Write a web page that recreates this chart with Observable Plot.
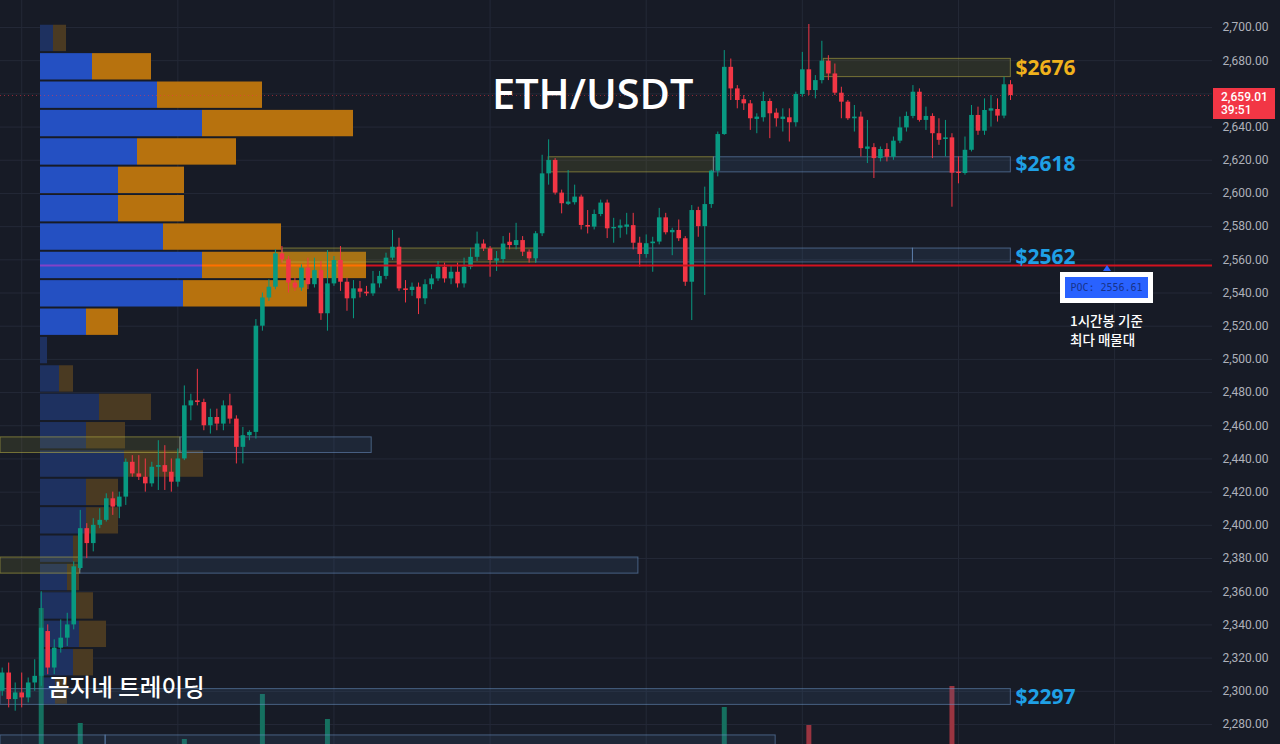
<!DOCTYPE html>
<html><head><meta charset="utf-8">
<script src="https://cdn.jsdelivr.net/npm/d3@7"></script>
<script src="https://cdn.jsdelivr.net/npm/@observablehq/plot@0.6"></script>
<style>
html,body{margin:0;padding:0;background:#171b26;}
#wrap{position:relative;width:1280px;height:744px;overflow:hidden;background:#171b26;}
#wrap svg{position:absolute;left:0;top:0;}
.t{position:absolute;white-space:nowrap;}
</style></head><body><div id="wrap"></div>
<script>
// ---- 1H candles (ETH/USDT) ----
const opens=[2300,2311,2295,2299,2296,2305,2309,2336,2314,2326,2332,2340,2374,2398,2389,2400,2403,2416,2411,2417,
2438,2431,2429,2425,2435,2436,2432,2426,2440,2472,2475,2474,2460,2465,2461,2472,2464,2447,2454,2456,
2520,2537,2543.5,2563.6,2560,2546,2543,2555,2545,2553.5,2527.5,2545.5,2559.6,2546.5,2536.5,2542.5,2540.5,2539.5,2545.5,2550,
2561,2567.6,2542.5,2541.5,2543.5,2536.5,2545,2548.5,2555.5,2548.5,2552.5,2545.5,2555.5,2561.5,2569.5,2566.6,2559.6,2560.2,2570.6,2568.6,
2571.6,2564.6,2560.6,2575.7,2611.8,2619.9,2600.2,2593.8,2594.4,2597.8,2580.7,2579.7,2587.3,2594.2,2578.7,2579.5,2580,2580.6,2570,2563.2,
2569.7,2570.7,2585.3,2576.3,2577.7,2572.7,2546.5,2589.7,2580,2593.3,2613.4,2635.5,2676,2663,2656.5,2654,2645,2645.6,2655.4,2648.4,
2645,2645.6,2642.6,2659.6,2674.5,2662,2668,2679.7,2672,2660.4,2655,2645,2646,2627,2627.6,2621,2626.5,2621.8,2631.5,2639.5,
2646.4,2661,2644,2646.4,2636,2632.5,2633.5,2612.8,2612,2626,2647,2637.5,2650,2650.6,2646.6,2665.5];
const highs=[2314,2317,2305,2311,2308,2319,2360,2340,2331,2343,2347,2378,2409,2401,2404,2410,2419,2420,2420,2440,
2442,2442,2440,2438,2451,2448,2440,2446,2484,2479,2494,2476,2470,2470,2475,2479,2466,2459,2457,2524,
2540,2548,2566,2568,2562,2549,2557,2561,2561,2559,2565.6,2562,2568,2549,2547.5,2547,2544,2553,2553,2564,
2577.7,2573,2547.5,2546,2546,2548,2551,2559,2558,2556,2558,2561,2567,2576.7,2572,2568,2565,2574,2576,2582,
2574,2566,2577,2623,2632.3,2621,2602,2613.8,2605,2599,2589.7,2590,2596,2596,2585,2584,2588,2588,2573.6,2575,
2573.6,2591,2588,2579,2584,2574,2592.7,2591.7,2603.8,2614,2637,2686.1,2681,2665,2659,2656,2648,2661,2657,2651,
2651,2651,2661,2685,2701.8,2671,2691.7,2683,2678,2664,2656,2653,2649,2644,2630,2628,2630,2634,2646,2649,
2665,2663,2652,2648,2645,2644,2636,2622,2634,2653,2652,2657,2659,2657,2670,2668];
const lows=[2297,2290,2288,2290,2293,2300,2303,2310,2310,2323,2327,2337,2373,2380,2384,2398,2402,2406,2404,2412,
2429,2427,2420,2423,2421,2421,2420,2423,2439,2463,2472,2457,2455,2457,2457,2461,2437,2437,2451,2452,
2517,2535,2542,2558,2540,2541,2541,2542,2543,2523.5,2517,2544,2541,2529,2524.5,2537,2538,2538,2543,2548,
2559.6,2541,2534,2538,2527,2533,2542,2547,2546,2545,2543,2543,2554,2559,2565,2549.5,2553,2558,2566,2566,
2562,2558,2558,2574,2605,2599,2587.7,2592.7,2593,2578,2575.6,2578,2586,2572.8,2570,2573,2575,2566,2555.6,2561,
2552.5,2569,2575,2562.5,2571,2544,2523.4,2573.6,2538.5,2591,2610,2635,2656,2651,2650,2638,2636,2643,2633,2640,
2637,2631,2640,2658,2659,2657,2666,2668,2659,2645,2644,2637,2622,2618,2609,2619,2619,2620,2630,2637,
2645,2643,2638,2621,2629,2622,2591.7,2605.8,2611,2625,2635,2635,2640,2643,2645,2656];
const closes=[2311,2295,2299,2296,2305,2309,2338,2314,2326,2332,2340,2375,2398,2389,2400,2403,2416,2411,2417,2438,
2431,2429,2425,2435,2436,2432,2426,2440,2472,2475,2474,2460,2465,2461,2472,2464,2447,2454,2456,2520,
2537,2543.5,2563.6,2560,2546,2543,2555,2545,2553.5,2527.5,2545.5,2559.6,2546.5,2536.5,2542.5,2540.5,2539.5,2545.5,2550,2561,
2567.6,2542.5,2541.5,2543.5,2536.5,2545,2548.5,2555.5,2548.5,2552.5,2545.5,2555.5,2561.5,2569.5,2566.6,2559.6,2560.2,2569.5,2568.6,2571.6,
2564.6,2560.6,2575.7,2611.8,2619.9,2600.2,2593.8,2594.4,2597.8,2580.7,2579.7,2587.3,2594.2,2578.7,2579.5,2580,2580.6,2570,2563.2,2569.7,
2570.7,2585.3,2576.3,2577.7,2572.7,2546.5,2589.7,2580,2593.3,2613.4,2635.5,2676,2663,2656,2654,2645,2645.6,2655.4,2648,2645,
2645.6,2642.6,2659.6,2674.5,2662,2668,2679.7,2672,2660.4,2655,2645,2646,2627,2627.6,2621,2626.5,2621.8,2631.5,2639.5,2646.4,
2661,2644,2646.4,2636,2632,2633.5,2612.2,2612,2626,2647,2637.5,2650,2650.6,2646.6,2665.5,2659.01];

// ---- volume bars that rise into view (candle index, volume K) ----
const volIndex=[6,12,28,40,50,111,124,146];
const volValue=[76,18.5,10.5,33,20.5,26.5,17.5,37];

// ---- volume profile (24 price rows, top -> bottom) ----
const profileTop=2701.96, profileStep=17.1;
const profileBuy =[13,52,117,162,97,78,78,123,162,143,46,7,19,59,46,84,46,46,33,27,36,39,33,15];
const profileSell=[13,59,105,151,99,66,66,118,164,124,32,0,14,52,39,79,32,32,7,12,17,27,20,12];
const valueAreaRows=[1,2,3,4,5,6,7,8,9,10]; // zero-based rows inside value area
const poc=2556.61, pocLineFrom=56;

// ---- zones ----
const zoneFrom=[126.3,84.0,109.4,43.1,82.1,140.0,-0.26,27.4,-0.26,12.0,-0.26,-0.26,15.9];
const zoneTo  =[155.05,109.4,155.05,82.1,140.0,155.05,27.4,56.8,12.0,97.8,155.05,15.9,118.9];
const zoneHi  =[2681.1,2621.8,2621.8,2566.8,2566.8,2566.8,2453.0,2453.0,2380.6,2380.6,2301.3,2273.4,2273.4];
const zoneLo  =[2670.1,2612.7,2612.7,2558.4,2558.4,2558.4,2443.6,2443.6,2370.9,2370.9,2291.8,2262,2262];
const zoneType=["y","y","b","y","b","b","y","b","y","b","b","b","b"];

const levelText=["$2676","$2618","$2562","$2297"];
const levelPrice=[2676,2618,2562,2297];
const levelColor=["#f0b21c","#1fa0e6","#1fa0e6","#1fa0e6"];

const priceTicks=d3.range(2280,2701,20);
const dayStarts=[3,27,51,75,99,123,147,171];

// ---- layout / scales ----
const W=1280,H=744,MR=68;
const xDomain=[-0.26,186.05], yDomain=[2267.93,2716.27];
const base={width:W,height:H,marginLeft:0,marginRight:MR,marginTop:0,marginBottom:0,
  style:{background:"transparent",fontFamily:"Roboto, sans-serif"}};
const wrap=document.getElementById("wrap");
const last=closes[closes.length-1];

// layer 1: grid + axis (tick hidden under the last-price label, as on the reference)
wrap.appendChild(Plot.plot({...base,
  x:{domain:xDomain,axis:null}, y:{domain:yDomain,axis:null},
  marks:[
    Plot.gridY(priceTicks,{stroke:"#242937",strokeOpacity:1}),
    Plot.gridX(dayStarts,{stroke:"#242937",strokeOpacity:1}),
    Plot.axisY(priceTicks.filter(t=>Math.abs(t-last)>9),{anchor:"right",tickSize:0,tickPadding:10,fontSize:12,fill:"#aeb1ba",
      tickFormat:d=>d3.format(",.2f")(d)})
  ]}));

// layer 2: volume profile
const prof=[];
profileBuy.forEach((b,k)=>{
  const hi=profileTop-k*profileStep, lo=hi-profileStep, va=valueAreaRows.includes(k);
  prof.push({x1:0,x2:b,hi,lo,fill:va?"#2450c2":"#1e3160"});
  if(profileSell[k]>0) prof.push({x1:b,x2:b+profileSell[k],hi,lo,fill:va?"#b7720e":"#4a3a22"});
});
const pocRow=Math.floor((profileTop-poc)/profileStep);
wrap.appendChild(Plot.plot({...base,
  x:{domain:[0,400],range:[40,440],axis:null}, y:{domain:yDomain,axis:null},
  marks:[
    Plot.rect(prof,{x1:"x1",x2:"x2",y1:"lo",y2:"hi",fill:"fill",insetTop:1,insetBottom:1}),
    Plot.ruleY([poc],{x1:0,x2:profileBuy[pocRow],stroke:"#9b3fc9",strokeWidth:2,strokeOpacity:0.8}),
    Plot.ruleY([poc],{x1:profileBuy[pocRow],x2:profileBuy[pocRow]+profileSell[pocRow],stroke:"#ff7000",strokeWidth:2})
  ]}));

// layer 3: volume bars
wrap.appendChild(Plot.plot({...base,
  x:{domain:xDomain,axis:null}, y:{domain:[0,380],range:[760,0],axis:null},
  marks:[
    Plot.ruleX(volIndex.map((i,k)=>({i,v:volValue[k],up:closes[i]>=opens[i]})),
      {x:"i",y1:0,y2:"v",strokeWidth:5,stroke:d=>d.up?"#15705f":"#9a3440"})
  ]}));

// layer 4: zones, candles, lines, labels
const candles=opens.map((o,i)=>({i,o,h:highs[i],l:lows[i],c:closes[i]}));
const zones=zoneFrom.map((x1,k)=>({x1,x2:zoneTo[k],hi:zoneHi[k],lo:zoneLo[k],t:zoneType[k]}));
const up="#089981", down="#f23645";
wrap.appendChild(Plot.plot({...base,
  x:{domain:xDomain,axis:null}, y:{domain:yDomain,axis:null},
  marks:[
    Plot.rect(zones,{x1:"x1",x2:"x2",y1:"lo",y2:"hi",
      fill:d=>d.t==="y"?"rgba(120,118,50,0.22)":"rgba(70,105,150,0.16)",
      stroke:d=>d.t==="y"?"rgba(190,180,70,0.55)":"rgba(110,150,200,0.55)",strokeWidth:1}),
    Plot.ruleY([last],{stroke:"#f23645",strokeOpacity:0.55,strokeDasharray:"1,3"}),
    Plot.ruleX(candles,{x:"i",y1:"l",y2:"h",stroke:d=>d.c>=d.o?up:down,strokeWidth:1}),
    Plot.ruleX(candles,{x:"i",
      y1:d=>Math.min(d.o,d.c)-(Math.abs(d.c-d.o)<0.8?0.4:0),
      y2:d=>Math.max(d.o,d.c)+(Math.abs(d.c-d.o)<0.8?0.4:0),
      stroke:d=>d.c>=d.o?up:down,strokeWidth:4.6}),
    Plot.ruleY([poc],{x1:pocLineFrom,x2:xDomain[1],stroke:"#d3121f",strokeWidth:2}),
    Plot.text(levelText.map((t,k)=>({t,p:levelPrice[k],c:levelColor[k]})),
      {x:155,y:"p",text:"t",fill:"c",textAnchor:"start",dx:5,dy:1,fontSize:21,fontWeight:700,
       fontFamily:"'Open Sans', sans-serif"})
  ]}));

// annotations (HTML text)
function add(html,css){const d=document.createElement("div");d.className="t";d.innerHTML=html;d.style.cssText+=css;wrap.appendChild(d);return d;}
add("ETH/USDT","left:492px;top:73px;font:600 41.5px 'Open Sans',sans-serif;line-height:1;color:#ffffff;");
add("곰지네 트레이딩","left:48px;top:675px;font:500 23.5px 'Noto Sans CJK KR',sans-serif;line-height:1;color:#ffffff;");
add("1시간봉 기준","left:1070px;top:314px;font:500 13.5px 'Noto Sans CJK KR',sans-serif;line-height:1;color:#ffffff;");
add("최다 매물대","left:1070px;top:333px;font:500 13.5px 'Noto Sans CJK KR',sans-serif;line-height:1;color:#ffffff;");
add("","left:1103px;top:265px;width:0;height:0;border-left:4px solid transparent;border-right:4px solid transparent;border-bottom:6px solid #2962ff;");
add("POC: "+poc.toFixed(2),"left:1060px;top:272px;width:93px;height:31px;box-sizing:border-box;border:5px solid #ffffff;background:#2962ff;color:#17338c;font:10px 'DejaVu Sans Mono',monospace;line-height:21px;text-align:center;");
add(d3.format(",.2f")(last)+"<br>39:51","left:1213px;top:88px;width:62px;height:31px;box-sizing:border-box;background:#f23645;color:#ffffff;font:500 12px Roboto,sans-serif;line-height:13px;padding:3px 0 0 8px;");
</script></body></html>
